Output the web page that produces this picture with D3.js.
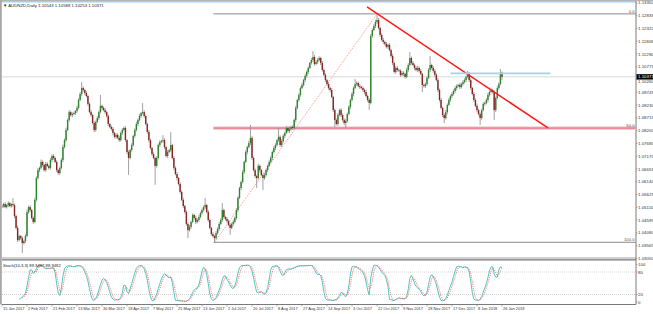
<!DOCTYPE html>
<html>
<head>
<meta charset="utf-8">
<script src="https://cdnjs.cloudflare.com/ajax/libs/d3/7.8.5/d3.min.js"></script>
<style>
    html, body { margin: 0; padding: 0; background: #fff; }
    svg { display: block; font-family: "Liberation Sans", Arial, sans-serif; }
</style>
</head>
<body>
<div id="chart"></div>
<script>
// chart title lines (as shown in the terminal)
const symbolTitle = '\u25BC AUDNZD,Daily  1.10543 1.10588 1.10253 1.10371';
const stochTitle = 'Stoch(10,3,3) 89.3497 88.9482';

// daily closes, one per bar (Sun-Fri bars), 15 Jan 2017 .. 26 Jan 2018
const closes = [
    1.0516,1.0524,1.0512,1.0520,1.0528,1.0516,1.0524,1.0520,1.0476,1.0428,1.0379,1.0395,1.0387,1.0367,1.0375,1.0395,1.0492,1.0512,1.0500,1.0468,
    1.0452,1.0541,1.0629,1.0661,1.0670,1.0694,1.0682,1.0661,1.0686,1.0678,1.0670,1.0702,1.0718,1.0710,1.0694,1.0661,1.0649,1.0670,1.0702,1.0754,
    1.0782,1.0823,1.0863,1.0895,1.0883,1.0887,1.0891,1.0899,1.0912,1.0944,1.0968,1.0992,1.0984,1.0972,1.0960,1.0928,1.0895,1.0883,1.0851,1.0823,
    1.0855,1.0871,1.0895,1.0920,1.0912,1.0903,1.0895,1.0879,1.0847,1.0835,1.0827,1.0811,1.0795,1.0803,1.0791,1.0782,1.0811,1.0823,1.0831,1.0782,
    1.0734,1.0710,1.0742,1.0762,1.0799,1.0823,1.0847,1.0863,1.0879,1.0891,1.0895,1.0879,1.0847,1.0815,1.0782,1.0750,1.0726,1.0710,1.0678,1.0710,
    1.0762,1.0774,1.0778,1.0782,1.0754,1.0718,1.0734,1.0742,1.0762,1.0710,1.0670,1.0645,1.0629,1.0605,1.0573,1.0541,1.0516,1.0492,1.0444,1.0419,
    1.0432,1.0452,1.0480,1.0468,1.0452,1.0460,1.0472,1.0488,1.0500,1.0512,1.0520,1.0492,1.0460,1.0428,1.0403,1.0395,1.0387,1.0407,1.0424,1.0444,
    1.0460,1.0500,1.0472,1.0464,1.0456,1.0440,1.0428,1.0444,1.0452,1.0468,1.0500,1.0549,1.0589,1.0613,1.0653,1.0694,1.0734,1.0754,1.0770,1.0791,
    1.0710,1.0661,1.0637,1.0629,1.0678,1.0661,1.0641,1.0629,1.0641,1.0661,1.0678,1.0694,1.0710,1.0734,1.0750,1.0762,1.0782,1.0795,1.0762,1.0778,
    1.0799,1.0811,1.0831,1.0819,1.0827,1.0835,1.0831,1.0863,1.0912,1.0944,1.0964,1.0992,1.1004,1.1024,1.1041,1.1057,1.1073,1.1093,1.1105,1.1117,
    1.1089,1.1097,1.1105,1.1113,1.1093,1.1065,1.1045,1.1024,1.1008,1.0992,1.0984,1.0956,1.0903,1.0863,1.0847,1.0883,1.0903,1.0883,1.0863,1.0851,
    1.0859,1.0887,1.0916,1.0944,1.0968,1.0992,1.1008,1.1012,1.1000,1.0996,1.0992,1.0984,1.0976,1.0960,1.0944,1.0932,1.1202,1.1226,1.1242,1.1258,
    1.1266,1.1234,1.1206,1.1186,1.1178,1.1170,1.1158,1.1166,1.1145,1.1121,1.1093,1.1057,1.1073,1.1065,1.1062,1.1045,1.1053,1.1049,1.1037,1.1065,
    1.1085,1.1113,1.1093,1.1085,1.1073,1.1065,1.1073,1.1061,1.1049,1.1004,1.1000,1.1008,1.1033,1.1065,1.1085,1.1073,1.1061,1.1045,1.1024,1.0984,
    1.0944,1.0912,1.0883,1.0871,1.0895,1.0924,1.0944,1.0960,1.0968,1.0980,1.0992,1.1000,1.1004,1.0996,1.1008,1.1016,1.1024,1.1037,1.1049,1.1024,
    1.0992,1.0968,1.0944,1.0920,1.0903,1.0887,1.0871,1.0903,1.0928,1.0932,1.0944,1.0964,1.0976,1.0984,1.0976,1.0903,1.0952,1.0992,1.1008,1.10543,
    1.10371
];
const firstOpen = 1.0512;

// wick lengths in pips above the body / below the body
const upWick = [
    6,5,8,4,7,5,3,24,6,5,9,6,4,7,5,8,10,6,7,5,
    6,9,7,8,5,10,6,4,8,7,5,9,6,8,5,7,4,6,8,10,
    7,9,6,8,5,7,6,4,9,7,8,24,6,5,7,4,6,8,5,7,
    6,8,7,44,5,6,8,5,7,4,6,8,5,7,6,9,5,8,6,7,
    5,7,6,8,5,7,9,6,8,5,36,7,6,5,8,6,4,7,5,8,
    6,8,5,20,7,6,8,5,52,5,7,6,8,5,7,6,9,5,7,6,
    8,6,7,5,9,6,8,5,7,6,28,5,8,6,4,7,5,9,6,8,
    7,28,6,5,8,6,7,5,9,6,8,7,5,6,8,5,7,6,9,52,
    8,6,7,5,9,6,5,7,8,6,5,7,9,6,8,7,5,36,6,8,
    7,5,8,6,9,5,7,6,8,5,7,6,9,5,8,6,7,5,8,24,
    8,6,9,7,5,8,6,7,5,9,6,8,5,7,6,8,5,9,6,7,
    8,6,7,5,9,6,20,7,6,8,5,7,6,9,5,7,8,6,7,9,
    20,8,6,7,9,5,8,6,7,5,9,6,8,7,5,6,8,7,5,9,
    7,24,6,8,5,7,9,6,8,5,7,6,8,7,36,5,8,6,7,9,
    6,8,5,7,9,6,8,5,7,6,8,7,5,9,6,8,7,6,12,8,
    7,5,8,6,9,5,7,6,8,5,7,9,6,8,5,7,6,9,8,14,
    4.5
];
const dnWick = [
    5,7,4,6,8,5,6,7,9,6,8,5,7,40,6,8,5,7,9,6,
    8,5,7,6,9,5,8,6,7,5,8,6,9,7,5,8,6,7,5,9,
    6,8,5,7,6,9,5,8,7,6,5,8,7,9,6,8,5,7,6,9,
    7,5,8,6,9,5,7,6,8,5,7,9,6,8,5,7,6,8,5,7,
    8,68,6,7,5,8,6,9,5,7,6,8,5,7,9,6,8,5,76,7,
    6,8,5,7,9,6,8,5,7,6,8,5,9,6,7,5,8,6,7,32,
    6,8,5,7,9,6,8,5,7,6,8,5,9,6,7,5,20,8,6,7,
    5,8,6,7,9,6,28,5,8,6,7,9,5,8,6,7,5,9,6,8,
    7,5,8,40,6,9,5,48,7,6,8,5,7,9,6,8,5,7,6,8,
    6,9,5,7,8,6,7,5,9,6,8,7,5,6,8,7,9,5,6,8,
    7,5,8,6,9,7,5,8,6,7,9,5,8,28,6,7,5,8,6,9,
    20,7,5,8,6,9,5,7,6,8,5,7,9,6,8,28,6,7,5,8,
    7,6,8,5,9,7,6,8,5,7,9,6,8,7,5,8,6,9,7,5,
    8,6,7,5,9,6,8,7,5,28,6,8,7,5,9,6,7,8,5,9,
    7,6,8,20,6,9,5,7,8,6,7,9,5,8,6,7,5,9,6,8,
    7,6,8,5,9,6,28,7,5,8,6,9,7,5,6,40,8,6,7,5,
    11.8
];

// bottom time axis, one label every 16 bars
const dateLabels = ['15 Jan 2017','2 Feb 2017','21 Feb 2017','13 Mar 2017','30 Mar 2017','18 Apr 2017',
    '7 May 2017','25 May 2017','13 Jun 2017','2 Jul 2017','20 Jul 2017','8 Aug 2017','27 Aug 2017',
    '14 Sep 2017','3 Oct 2017','22 Oct 2017','9 Nov 2017','28 Nov 2017','17 Dec 2017','8 Jan 2018','26 Jan 2018'];
const dateStep = 16;

// right price axis
const priceTicks = [1.13350,1.12835,1.12320,1.11805,1.11290,1.10775,1.10260,1.09745,1.09230,1.08715,
    1.08200,1.07685,1.07170,1.06655,1.06140,1.05625,1.05110,1.04595,1.04080,1.03565,1.03050];
const stochTicks = [100, 80, 20, 0];
const stochLevels = [80, 20];

// drawn objects: [bar index, price]
const fiboLow = [136, 1.0370];
const fiboHigh = [240, 1.1291];
const fiboLevels = [0, 50, 100];
const trendLine = [[233.6, 1.1319], [349.4, 1.0831]];
const resistLine = [[287, 1.1051], [351, 1.1051]];

const PIP = 0.0001;
const W = 653, H = 314;
const plotL = 2, plotR = 636;
const mainTop = 2, mainBottom = 259;
const oscTop = 261, oscBottom = 304.5;

const svg = d3.select('#chart').append('svg')
    .attr('width', W).attr('height', H)
    .attr('viewBox', [0, 0, W, H]);

const bars = closes.map((c, i) => {
    const o = i === 0 ? firstOpen : closes[i - 1];
    return { i, o, c, h: Math.max(o, c) + upWick[i] * PIP, l: Math.min(o, c) - dnWick[i] * PIP };
});

const x = d3.scaleLinear().domain([0, 320]).range([2, 502]);
const y = d3.scaleLinear().domain([1.0301, 1.1347]).range([259.4, 0]);
const ys = d3.scaleLinear().domain([0, 100]).range([302, 264.5]);

// clip for both panes
const defs = svg.append('defs');
defs.append('clipPath').attr('id', 'clipMain')
    .append('rect').attr('x', plotL).attr('y', mainTop).attr('width', plotR - plotL).attr('height', mainBottom - mainTop);
defs.append('clipPath').attr('id', 'clipOsc')
    .append('rect').attr('x', plotL).attr('y', oscTop).attr('width', plotR - plotL).attr('height', oscBottom - oscTop);

// frame
svg.append('rect').attr('x', 0).attr('y', 0).attr('width', W).attr('height', 1).attr('fill', '#b4b4b4');
svg.append('line').attr('x1', 0).attr('x2', plotR).attr('y1', 1.8).attr('y2', 1.8)
    .attr('stroke', '#9fd2e3').attr('stroke-width', 1.4);
svg.append('rect').attr('x', 0).attr('y', 0).attr('width', 1.8).attr('height', oscBottom).attr('fill', '#a8a8a8');
svg.append('rect').attr('x', plotL).attr('y', mainBottom - 2).attr('width', plotR - plotL).attr('height', 2.5).attr('fill', '#d0d0d0');
svg.append('line').attr('x1', plotL).attr('x2', plotR).attr('y1', mainBottom + 0.8).attr('y2', mainBottom + 0.8)
    .attr('stroke', '#7a7a7a').attr('stroke-width', 1.2);
svg.append('line').attr('x1', plotL).attr('x2', plotR).attr('y1', oscBottom).attr('y2', oscBottom)
    .attr('stroke', '#7a7a7a').attr('stroke-width', 1);
svg.append('line').attr('x1', plotR).attr('x2', plotR).attr('y1', 1).attr('y2', oscBottom)
    .attr('stroke', '#7a7a7a').attr('stroke-width', 1);

const main = svg.append('g').attr('clip-path', 'url(#clipMain)');

// fibo retracement levels
const fiboPrice = lv => fiboHigh[1] - (fiboHigh[1] - fiboLow[1]) * lv / 100;
fiboLevels.forEach(lv => {
    const py = y(fiboPrice(lv));
    if (lv === 50) {
        main.append('line').attr('x1', x(fiboLow[0]) - 1).attr('x2', plotR).attr('y1', py).attr('y2', py)
            .attr('stroke', '#f6b8c4').attr('stroke-width', 3.2);
        main.append('line').attr('x1', x(fiboLow[0]) - 1).attr('x2', plotR).attr('y1', py).attr('y2', py)
            .attr('stroke', '#d24a5e').attr('stroke-width', 0.7);
    } else {
        main.append('line').attr('x1', x(fiboLow[0]) - 1).attr('x2', plotR).attr('y1', py).attr('y2', py)
            .attr('stroke', '#8a8a8a').attr('stroke-width', 1);
    }
    svg.append('text').attr('x', plotR - 1.5).attr('y', py - 1.2)
        .attr('text-anchor', 'end').attr('font-size', 4.2).attr('fill', '#555')
        .text(lv.toFixed(1));
});
main.append('line')
    .attr('x1', x(fiboLow[0])).attr('y1', y(fiboLow[1]))
    .attr('x2', x(fiboHigh[0])).attr('y2', y(fiboHigh[1]))
    .attr('stroke', '#ff6a6a').attr('stroke-width', 0.8).attr('stroke-dasharray', '1,1.2');

// bid line
const last = bars[bars.length - 1];
main.append('line').attr('x1', plotL).attr('x2', plotR).attr('y1', y(last.c)).attr('y2', y(last.c))
    .attr('stroke', '#cfcfcf').attr('stroke-width', 0.8);

// candles
const candle = main.append('g').selectAll('g').data(bars).join('g');
candle.append('line')
    .attr('x1', d => x(d.i)).attr('x2', d => x(d.i))
    .attr('y1', d => y(d.h)).attr('y2', d => y(d.l))
    .attr('stroke', '#959595').attr('stroke-width', 0.9);
candle.append('rect')
    .attr('x', d => x(d.i) - 0.7).attr('width', 1.4)
    .attr('y', d => y(Math.max(d.o, d.c)))
    .attr('height', d => Math.max(0.6, Math.abs(y(d.o) - y(d.c))))
    .attr('fill', d => d.c >= d.o ? '#2a862a' : '#8a2222');

// trend line and resistance
main.append('line')
    .attr('x1', x(trendLine[0][0])).attr('y1', y(trendLine[0][1]))
    .attr('x2', x(trendLine[1][0])).attr('y2', y(trendLine[1][1]))
    .attr('stroke', '#ff1a1a').attr('stroke-width', 1.5);
main.append('line')
    .attr('x1', x(resistLine[0][0])).attr('y1', y(resistLine[0][1]))
    .attr('x2', x(resistLine[1][0])).attr('y2', y(resistLine[1][1]))
    .attr('stroke', '#9fd6e4').attr('stroke-width', 1.8);

// right price axis
const pAxis = svg.append('g');
const boxTop = y(last.c) - 2.7, boxBottom = y(last.c) + 2.7;
priceTicks.forEach(p => {
    const ty = y(p);
    pAxis.append('line').attr('x1', plotR).attr('x2', plotR + 1.5).attr('y1', ty).attr('y2', ty)
        .attr('stroke', '#7a7a7a').attr('stroke-width', 0.6);
    // keep the tick label clear of the current price box
    let base = ty + 1.5;
    if (base > boxTop && base - 3.3 < boxBottom) base = boxBottom + 3.6;
    pAxis.append('text').attr('x', plotR + 2).attr('y', base)
        .attr('font-size', 4.4).attr('fill', '#333').text(p.toFixed(5));
});
pAxis.append('rect').attr('x', plotR + 0.5).attr('y', boxTop).attr('width', W - plotR).attr('height', boxBottom - boxTop)
    .attr('fill', '#000');
pAxis.append('text').attr('x', plotR + 2).attr('y', y(last.c) + 1.6)
    .attr('font-size', 4.4).attr('fill', '#fff').text(last.c.toFixed(5));

// header
svg.append('text').attr('x', 3).attr('y', 7.2).attr('font-size', 4.3).attr('fill', '#222').text(symbolTitle);

// stochastic 10,3,3 from the bars
const kPer = 10, slowing = 3, dPer = 3;
const raw = bars.map((b, i) => {
    if (i < kPer - 1) return null;
    const w = bars.slice(i - kPer + 1, i + 1);
    const ll = d3.min(w, d => d.l), hh = d3.max(w, d => d.h);
    return { num: b.c - ll, den: hh - ll };
});
const kLine = raw.map((r, i) => {
    if (i < kPer - 1 + slowing - 1) return null;
    let n = 0, dd = 0;
    for (let j = i - slowing + 1; j <= i; j++) { n += raw[j].num; dd += raw[j].den; }
    return dd ? 100 * n / dd : 50;
});
const dLine = kLine.map((v, i) => {
    if (i < kPer - 1 + slowing - 1 + dPer - 1) return null;
    return d3.mean(kLine.slice(i - dPer + 1, i + 1));
});

const osc = svg.append('g').attr('clip-path', 'url(#clipOsc)');
stochLevels.forEach(lv => {
    osc.append('line').attr('x1', plotL).attr('x2', plotR).attr('y1', ys(lv)).attr('y2', ys(lv))
        .attr('stroke', '#b8b8b8').attr('stroke-width', 0.6).attr('stroke-dasharray', '1,1');
});
const stochPath = d3.line().defined(v => v != null).x((v, i) => x(i)).y(v => ys(v));
osc.append('path').attr('d', stochPath(kLine)).attr('fill', 'none')
    .attr('stroke', '#3cc0bc').attr('stroke-width', 0.9);
osc.append('path').attr('d', stochPath(dLine)).attr('fill', 'none')
    .attr('stroke', '#ff4a4a').attr('stroke-width', 0.7).attr('stroke-dasharray', '1.2,1');
svg.append('text').attr('x', 3).attr('y', 266.5).attr('font-size', 4.2).attr('fill', '#222').text(stochTitle);
stochTicks.forEach(t => {
    svg.append('line').attr('x1', plotR).attr('x2', plotR + 1.5).attr('y1', ys(t)).attr('y2', ys(t))
        .attr('stroke', '#7a7a7a').attr('stroke-width', 0.6);
    svg.append('text').attr('x', plotR + 2).attr('y', ys(t) + 1.5)
        .attr('font-size', 4.4).attr('fill', '#333').text(t);
});

// bottom date axis
dateLabels.forEach((lab, k) => {
    const tx = x(k * dateStep);
    svg.append('line').attr('x1', tx).attr('x2', tx).attr('y1', oscBottom).attr('y2', oscBottom + 2)
        .attr('stroke', '#7a7a7a').attr('stroke-width', 0.6);
    svg.append('text').attr('x', tx + 1).attr('y', 310.2)
        .attr('font-size', 3.9).attr('fill', '#333').text(lab);
});
</script>
</body>
</html>
